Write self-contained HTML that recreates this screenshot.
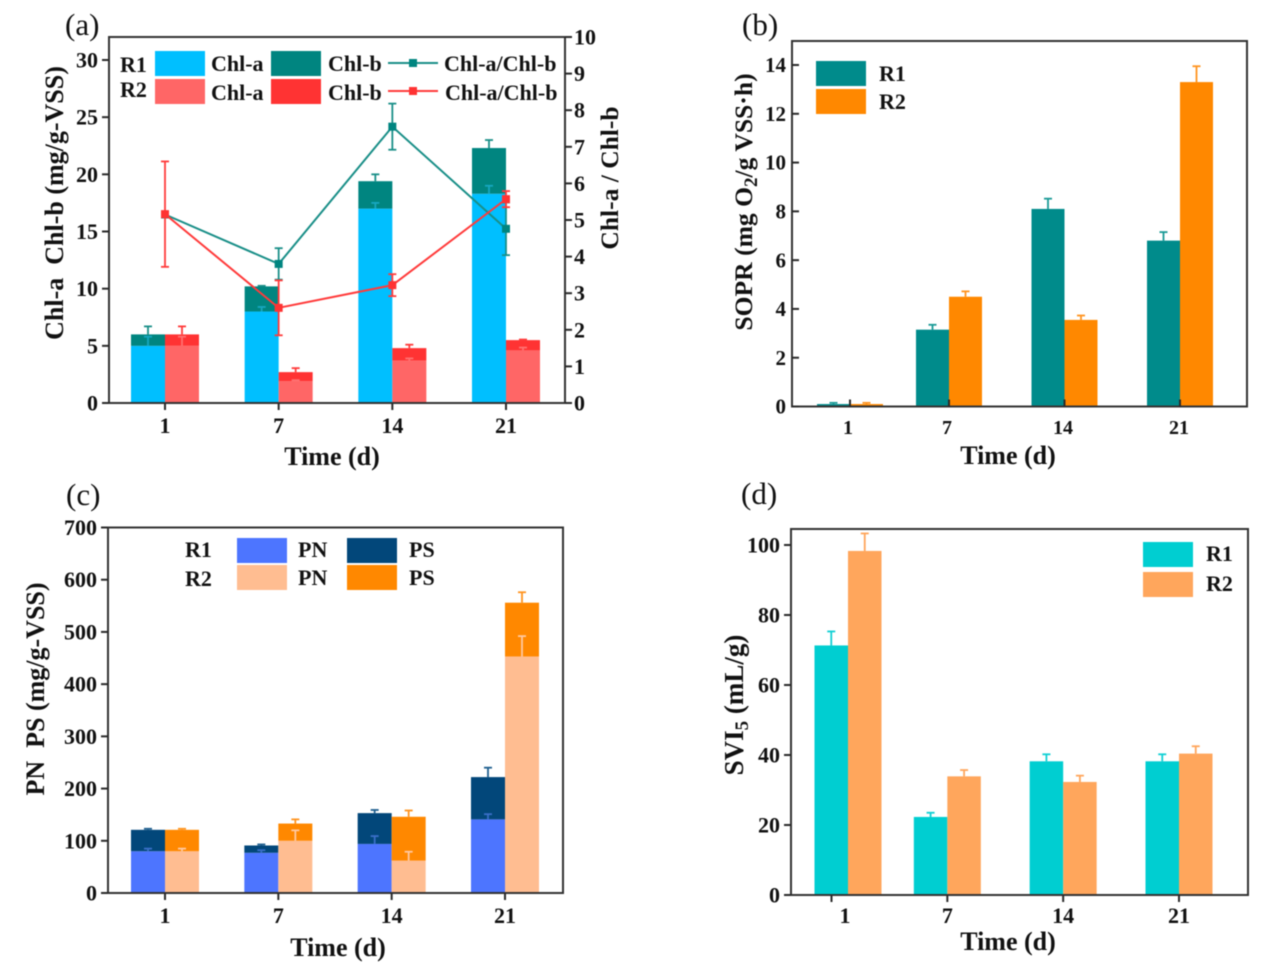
<!DOCTYPE html>
<html lang="en">
<head>
<meta charset="utf-8">
<title>Chlorophyll, SOPR, EPS and SVI over time</title>
<style>
html,body{margin:0;padding:0;background:#fff;}
svg{display:block;filter:blur(0.6px);}
text{font-family:"Liberation Serif",serif;font-weight:bold;fill:#111;}
.letter{font-weight:normal;font-size:31px;}
.title{font-size:26px;}
.leg{font-size:22px;}
</style>
</head>
<body>
<svg id="figure" xmlns="http://www.w3.org/2000/svg" width="1277" height="971" viewBox="0 0 1277 971">
  <rect x="0" y="0" width="1277" height="971" fill="#fff"/>

  <g id="panel-a"></g>
  <g id="panel-b"></g>
  <g id="panel-c"></g>
  <g id="panel-d"></g>

  <!-- panel letters -->
  <text class="letter" x="65" y="35">(a)</text>
  <text class="letter" x="742" y="35">(b)</text>
  <text class="letter" x="66" y="505">(c)</text>
  <text class="letter" x="741" y="504">(d)</text>

  <!-- axis titles -->
  <text class="title" x="332" y="465" text-anchor="middle">Time (d)</text>
  <text class="title" x="1008" y="464" text-anchor="middle">Time (d)</text>
  <text class="title" x="338" y="956" text-anchor="middle">Time (d)</text>
  <text class="title" x="1008" y="950" text-anchor="middle">Time (d)</text>
  <text class="title" transform="translate(63,203) rotate(-90)" text-anchor="middle" xml:space="preserve">Chl-a  Chl-b (mg/g-VSS)</text>
  <text class="title" font-size="25.5" style="font-size:25.5px" transform="translate(618,178) rotate(-90)" text-anchor="middle">Chl-a / Chl-b</text>
  <text class="title" style="font-size:25.6px" transform="translate(752,202) rotate(-90)" text-anchor="middle">SOPR (mg O<tspan dy="5" font-size="19">2</tspan><tspan dy="-5">/g VSS·h)</tspan></text>
  <text class="title" transform="translate(44,689) rotate(-90)" text-anchor="middle" xml:space="preserve">PN  PS (mg/g-VSS)</text>
  <text class="title" style="font-size:27px" transform="translate(743,705) rotate(-90)" text-anchor="middle">SVI<tspan dy="5" font-size="19">5</tspan><tspan dy="-5"> (mL/g)</tspan></text>

  <!-- legend a -->
  <g>
    <text class="leg" x="120" y="72">R1</text>
    <text class="leg" x="120" y="97">R2</text>
    <rect x="155" y="51" width="50" height="25" fill="#00BFFF"/>
    <rect x="155" y="79" width="50" height="25" fill="#FF6666"/>
    <text class="leg" x="211" y="71">Chl-a</text>
    <text class="leg" x="211" y="100">Chl-a</text>
    <rect x="271" y="51" width="50" height="25" fill="#008580"/>
    <rect x="271" y="79" width="50" height="25" fill="#FF3333"/>
    <text class="leg" x="328" y="71">Chl-b</text>
    <text class="leg" x="328" y="100">Chl-b</text>
    <line x1="388" y1="63" x2="438" y2="63" stroke="#1A8F88" stroke-width="2"/>
    <rect x="409" y="59" width="8" height="8" fill="#008580"/>
    <line x1="388" y1="91" x2="438" y2="91" stroke="#FF3B3B" stroke-width="2"/>
    <rect x="409" y="87" width="8" height="8" fill="#FF3333"/>
    <text class="leg" x="444" y="71">Chl-a/Chl-b</text>
    <text class="leg" x="445" y="100">Chl-a/Chl-b</text>
  </g>

  <!-- legend b -->
  <g>
    <rect x="816" y="61" width="50" height="25" fill="#008B8B"/>
    <rect x="816" y="89" width="50" height="25" fill="#FF8800"/>
    <text class="leg" x="879" y="81">R1</text>
    <text class="leg" x="879" y="109">R2</text>
  </g>

  <!-- legend c -->
  <g>
    <text class="leg" x="185" y="557">R1</text>
    <text class="leg" x="185" y="586">R2</text>
    <rect x="237" y="538" width="50" height="25" fill="#4D75FF"/>
    <rect x="237" y="565" width="50" height="25" fill="#FFBD91"/>
    <text class="leg" x="298" y="557">PN</text>
    <text class="leg" x="298" y="585">PN</text>
    <rect x="347" y="538" width="50" height="25" fill="#02477A"/>
    <rect x="347" y="565" width="50" height="25" fill="#FF8800"/>
    <text class="leg" x="409" y="557">PS</text>
    <text class="leg" x="409" y="585">PS</text>
  </g>

  <!-- legend d -->
  <g>
    <rect x="1143" y="542" width="50" height="25" fill="#00CED1"/>
    <rect x="1143" y="572" width="50" height="25" fill="#FFA65C"/>
    <text class="leg" x="1206" y="561">R1</text>
    <text class="leg" x="1206" y="591">R2</text>
  </g>
</svg>

<script>
// ---------- shared categories ----------
const timeLabels = ['1', '7', '14', '21'];

// ---------- panel (a) data ----------
const aLeftTicks = [0, 5, 10, 15, 20, 25, 30];
const aRightTicks = [0, 1, 2, 3, 4, 5, 6, 7, 8, 9, 10];
const aR1ChlA = [5, 8, 17, 18.3];
const aR1ChlATop = [5.8, 8.4, 17.5, 19];
const aR1ChlB = [1, 2.2, 2.4, 4];
const aR1ChlBTop = [6.7, 10.25, 20, 23];
const aR2ChlA = [5, 1.9, 3.7, 4.6];
const aR2ChlATop = [5.8, 2, 3.9, 4.85];
const aR2ChlB = [1, 0.8, 1.1, 0.9];
const aR2ChlBTop = [6.7, 3.05, 5.1, 5.55];
const aR1Ratio = [5.15, 3.8, 7.55, 4.76];
const aR1RatioErr = [0, 0.43, 0.63, 0.72];
const aR2Ratio = [5.16, 2.6, 3.22, 5.57];
const aR2RatioErr = [1.44, 0.75, 0.3, 0.22];

// ---------- panel (b) data ----------
const bTicks = [0, 2, 4, 6, 8, 10, 12, 14];
const bR1 = [0.1, 3.15, 8.1, 6.8];
const bR1Top = [0.15, 3.35, 8.52, 7.15];
const bR2 = [0.1, 4.5, 3.55, 13.3];
const bR2Top = [0.15, 4.72, 3.73, 13.95];

// ---------- panel (c) data ----------
const cTicks = [0, 100, 200, 300, 400, 500, 600, 700];
const cR1PN = [80, 77, 94, 141];
const cR1PNTop = [85, 82, 109, 151];
const cR1PS = [41, 14, 59, 81];
const cR1PSTop = [123, 93, 159, 240];
const cR2PN = [80, 100, 62, 453];
const cR2PNTop = [85, 120, 79, 492];
const cR2PS = [41, 33, 84, 103];
const cR2PSTop = [123, 141, 158, 576];

// ---------- panel (d) data ----------
const dTicks = [0, 20, 40, 60, 80, 100];
const dR1 = [71.3, 22.3, 38.2, 38.2];
const dR1Top = [75.3, 23.5, 40.2, 40.2];
const dR2 = [98.3, 33.9, 32.3, 40.4];
const dR2Top = [103.3, 35.7, 34.1, 42.5];

// ---------- helpers ----------
const SVGNS = 'http://www.w3.org/2000/svg';
function mark(parent, tag, name, attrs, txt) {
  const el = document.createElementNS(SVGNS, tag);
  for (const k in attrs) el.setAttribute(k, attrs[k]);
  
  
  if (txt !== undefined) el.textContent = txt;
  parent.appendChild(el);
  return el;
}
function linear(d0, d1, r0, r1) {
  return v => r0 + (v - d0) * (r1 - r0) / (d1 - d0);
}
const AXIS = '#2a2a2a';
function frame(g, L, T, R, B) {
  mark(g, 'rect', 'plot-frame', {x: L, y: T, width: R - L, height: B - T, fill: 'none', stroke: '#333', 'stroke-width': 2});
}
function yTicks(g, ticks, y, axisX, len, labelX, size, anchor, prefix) {
  ticks.forEach(t => {
    mark(g, 'line', prefix + '-tick-' + t, {x1: axisX, x2: axisX + len, y1: y(t), y2: y(t), stroke: AXIS, 'stroke-width': 2});
    mark(g, 'text', prefix + '-label-' + t, {x: labelX, y: y(t) + size * 0.34, 'text-anchor': anchor, 'font-size': size}, String(t));
  });
}
function xTicks(g, tickX, labelX, axisY, len, labelY, size) {
  timeLabels.forEach((t, i) => {
    mark(g, 'line', 'x-tick-' + t, {x1: tickX(i), x2: tickX(i), y1: axisY, y2: axisY + len, stroke: AXIS, 'stroke-width': 2});
    mark(g, 'text', 'x-label-' + t, {x: labelX(i), y: labelY, 'text-anchor': 'middle', 'font-size': size}, t);
  });
}
function bar(g, name, x, w, y0, y1, fill) {
  mark(g, 'rect', name, {x: x, y: Math.min(y0, y1), width: w, height: Math.abs(y1 - y0), fill: fill});
}
function err(g, name, x, yFrom, yTo, color, cap) {
  mark(g, 'line', name + '-stem', {x1: x, x2: x, y1: yFrom, y2: yTo, stroke: color, 'stroke-width': 1.8});
  mark(g, 'line', name + '-cap', {x1: x - cap, x2: x + cap, y1: yTo, y2: yTo, stroke: color, 'stroke-width': 1.8});
}
function stacked(g, prefix, i, left, w, y, lower, lowerTop, upper, upperTop, cLower, cUpper, eLower, eUpper) {
  const a = lower[i], tot = lower[i] + upper[i], cx = left + w / 2, d = timeLabels[i];
  bar(g, prefix + '-lower-bar-day-' + d, left, w, y(0), y(a), cLower);
  bar(g, prefix + '-upper-bar-day-' + d, left, w, y(a), y(tot), cUpper);
  err(g, prefix + '-lower-error-day-' + d, cx, y(a), y(lowerTop[i]), eLower, 4);
  err(g, prefix + '-upper-error-day-' + d, cx, y(tot), y(upperTop[i]), eUpper, 4);
}

// ---------- panel (a) ----------
(function () {
  const g = document.getElementById('panel-a');
  const L = 109, R = 565, T = 37, B = 403;
  const yL = linear(0, 30, B, 60);
  const yR = linear(0, 10, B, T);
  const x = linear(0, 3, 165, 506);
  const w = 34;
  timeLabels.forEach((t, i) => {
    stacked(g, 'r1-chl', i, x(i) - w, w, yL, aR1ChlA, aR1ChlATop, aR1ChlB, aR1ChlBTop, '#00BFFF', '#008580', '#17A7C0', '#1A8F88');
    stacked(g, 'r2-chl', i, x(i), w, yL, aR2ChlA, aR2ChlATop, aR2ChlB, aR2ChlBTop, '#FF6666', '#FF3333', '#FF7070', '#FF3B3B');
  });
  frame(g, L, T, R, B);
  yTicks(g, aLeftTicks, yL, L, -7, 98, 22, 'end', 'left-y');
  yTicks(g, aRightTicks, yR, R, 7, 574, 22, 'start', 'right-y');
  xTicks(g, x, x, B, 7, 433, 22);
  [[aR1Ratio, aR1RatioErr, '#1A8F88', '#008580', 'r1-ratio'], [aR2Ratio, aR2RatioErr, '#FF3B3B', '#FF3333', 'r2-ratio']].forEach(s => {
    const pts = s[0].map((v, i) => x(i) + ',' + yR(v)).join(' ');
    mark(g, 'polyline', s[4] + '-line', {points: pts, fill: 'none', stroke: s[2], 'stroke-width': 2});
    s[0].forEach((v, i) => {
      const d = timeLabels[i];
      mark(g, 'line', s[4] + '-error-day-' + d, {x1: x(i), x2: x(i), y1: yR(v - s[1][i]), y2: yR(v + s[1][i]), stroke: s[2], 'stroke-width': 1.8});
      [v - s[1][i], v + s[1][i]].forEach((e, k) => {
        mark(g, 'line', s[4] + '-cap-' + k + '-day-' + d, {x1: x(i) - 4, x2: x(i) + 4, y1: yR(e), y2: yR(e), stroke: s[2], 'stroke-width': 1.8});
      });
      mark(g, 'rect', s[4] + '-point-day-' + d, {x: x(i) - 4, y: yR(v) - 4, width: 8, height: 8, fill: s[3]});
    });
  });
})();

// ---------- panel (b) ----------
(function () {
  const g = document.getElementById('panel-b');
  const L = 792, R = 1247, T = 41, B = 406.5;
  const y = linear(0, 14, B, 65);
  const borderX = i => i === 0 ? 850 : linear(1, 3, 949, 1180)(i);
  const labelX = i => i === 0 ? 848 : linear(1, 3, 947, 1179)(i);
  const w = 33;
  timeLabels.forEach((t, i) => {
    const b = borderX(i);
    bar(g, 'r1-bar-day-' + t, b - w, w, y(0), y(bR1[i]), '#008B8B');
    bar(g, 'r2-bar-day-' + t, b, w, y(0), y(bR2[i]), '#FF8800');
    err(g, 'r1-error-day-' + t, b - w / 2, y(bR1[i]), y(bR1Top[i]), '#1A9A96', 4);
    err(g, 'r2-error-day-' + t, b + w / 2, y(bR2[i]), y(bR2Top[i]), '#FF9420', 4);
  });
  frame(g, L, T, R, B);
  yTicks(g, bTicks, y, L, 7, 786, 21, 'end', 'y');
  xTicks(g, borderX, labelX, B, -7, 434, 20);
})();

// ---------- panel (c) ----------
(function () {
  const g = document.getElementById('panel-c');
  const L = 108, R = 563, T = 527.5, B = 893;
  const y = linear(0, 700, B, T);
  const x = linear(0, 3, 165, 505);
  const w = 34;
  timeLabels.forEach((t, i) => {
    stacked(g, 'r1-eps', i, x(i) - w, w, y, cR1PN, cR1PNTop, cR1PS, cR1PSTop, '#4D75FF', '#02477A', '#3A6FC8', '#1F5F8F');
    stacked(g, 'r2-eps', i, x(i), w, y, cR2PN, cR2PNTop, cR2PS, cR2PSTop, '#FFBD91', '#FF8800', '#FFC8A0', '#FF9420');
  });
  frame(g, L, T, R, B);
  yTicks(g, cTicks, y, L, -7, 97, 22, 'end', 'y');
  xTicks(g, x, x, B, 7, 923, 22);
})();

// ---------- panel (d) ----------
(function () {
  const g = document.getElementById('panel-d');
  const L = 791, R = 1248, T = 529, B = 895;
  const y = linear(0, 100, B, 545);
  const tickX = linear(0, 3, 831.5, 1179);
  const borderX = i => i === 0 ? 848 : tickX(i);
  const labelX = i => i === 0 ? 845 : tickX(i);
  const w = 33.5;
  timeLabels.forEach((t, i) => {
    const b = borderX(i);
    bar(g, 'r1-bar-day-' + t, b - w, w, y(0), y(dR1[i]), '#00CED1');
    bar(g, 'r2-bar-day-' + t, b, w, y(0), y(dR2[i]), '#FFA65C');
    err(g, 'r1-error-day-' + t, b - w / 2, y(dR1[i]), y(dR1Top[i]), '#10D0D4', 4);
    err(g, 'r2-error-day-' + t, b + w / 2, y(dR2[i]), y(dR2Top[i]), '#FFA65C', 4);
  });
  frame(g, L, T, R, B);
  yTicks(g, dTicks, y, L, -7, 780, 22, 'end', 'y');
  xTicks(g, tickX, labelX, B, 7, 923, 22);
})();
</script>
</body>
</html>
